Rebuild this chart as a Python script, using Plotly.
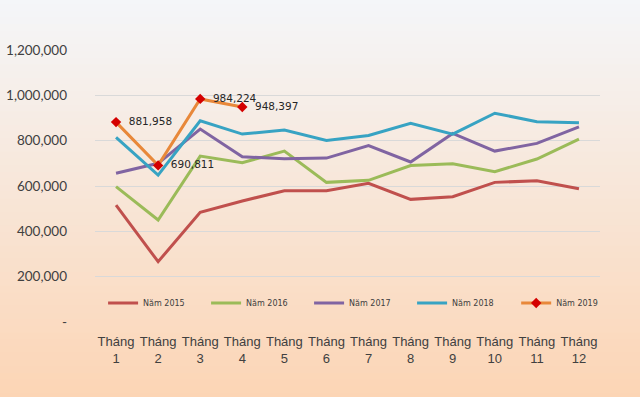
import plotly.graph_objects as go

months = ["Tháng<br>1", "Tháng<br>2", "Tháng<br>3", "Tháng<br>4", "Tháng<br>5", "Tháng<br>6",
          "Tháng<br>7", "Tháng<br>8", "Tháng<br>9", "Tháng<br>10", "Tháng<br>11", "Tháng<br>12"]

nam_2015 = [516000, 266000, 484000, 534000, 579000, 579000, 612000, 541000, 553000, 616000, 623000, 588000]
nam_2016 = [597000, 450000, 732000, 703000, 754000, 616000, 625000, 690000, 698000, 663000, 719000, 807000]
nam_2017 = [656000, 700000, 851000, 729000, 720000, 723000, 778000, 706000, 832000, 754000, 788000, 861000]
nam_2018 = [815000, 648000, 888000, 829000, 847000, 801000, 823000, 877000, 829000, 921000, 884000, 879000]
nam_2019 = [881958, 690811, 984224, 948397]

y_ticks = [0, 200000, 400000, 600000, 800000, 1000000, 1200000]
y_tick_text = ["-", "200,000", "400,000", "600,000", "800,000", "1,000,000", "1,200,000"]

series = [
    ("Năm 2015", nam_2015, "#c0504d"),
    ("Năm 2016", nam_2016, "#9bbb59"),
    ("Năm 2017", nam_2017, "#8064a2"),
    ("Năm 2018", nam_2018, "#37a3c3"),
]

fig = go.Figure()
for name, vals, color in series:
    fig.add_trace(go.Scatter(x=months[:len(vals)], y=vals, name=name, mode="lines",
                             line=dict(color=color, width=3), legend="legend"))

fig.add_trace(go.Scatter(
    x=months[:len(nam_2019)], y=nam_2019, name="Năm 2019", mode="lines+markers+text",
    line=dict(color="#e8883a", width=3),
    marker=dict(symbol="diamond", size=8, color="#d40000"),
    text=["  " + f"{v:,}" for v in nam_2019],
    textposition="middle right",
    textfont=dict(family="DejaVu Sans", size=10.5, color="#262626"),
    legend="legend2",
))

# gradient background bands
shapes = []
n = 60
top_c = (244, 246, 249)
bot_c = (252, 213, 181)
H, plot_h, b = 397, 272, 75
y_top = (H - b) / plot_h + 0.01
y_bot = -b / plot_h - 0.01
for i in range(n):
    t = i / (n - 1)
    c = tuple(round(top_c[k] + (bot_c[k] - top_c[k]) * t) for k in range(3))
    y1 = y_top - (y_top - y_bot) * i / n
    y0 = y_top - (y_top - y_bot) * (i + 1) / n - 0.003
    shapes.append(dict(type="rect", xref="paper", yref="paper", x0=-0.5, x1=1.5,
                       y0=y0, y1=y1, fillcolor=f"rgb{c}", line=dict(width=0), layer="below"))

legend_common = dict(orientation="h", y=0.07, xanchor="left", yanchor="middle",
                     bgcolor="rgba(0,0,0,0)",
                     font=dict(family="DejaVu Sans", size=8, color="#404040"),
                     entrywidth=58, entrywidthmode="pixels", itemwidth=30, tracegroupgap=0)

fig.update_layout(
    width=640, height=397,
    margin=dict(l=95, r=40, t=50, b=75),
    paper_bgcolor="#fcd5b5",
    plot_bgcolor="rgba(0,0,0,0)",
    shapes=shapes,
    showlegend=True,
    legend=dict(x=0.016, **legend_common),
    legend2=dict(x=0.834, **legend_common),
    xaxis=dict(type="category", range=[-0.5, 11.5], showgrid=False, showline=False, zeroline=False,
               ticks="", tickfont=dict(family="Liberation Sans", size=13, color="#404040"),
               ticklabelstandoff=10, automargin=False),
    yaxis=dict(range=[0, 1200000], tickvals=y_ticks, ticktext=y_tick_text,
               showgrid=True, gridcolor="#d9d9d9", gridwidth=1, zeroline=False, showline=False,
               tickfont=dict(family="Lato", size=13.5, color="#404040"), ticklabelstandoff=27,
               automargin=False),
)

fig.write_html("out.html", config={"displayModeBar": False},
               post_script="document.body.style.margin='0';document.body.style.padding='0';")
